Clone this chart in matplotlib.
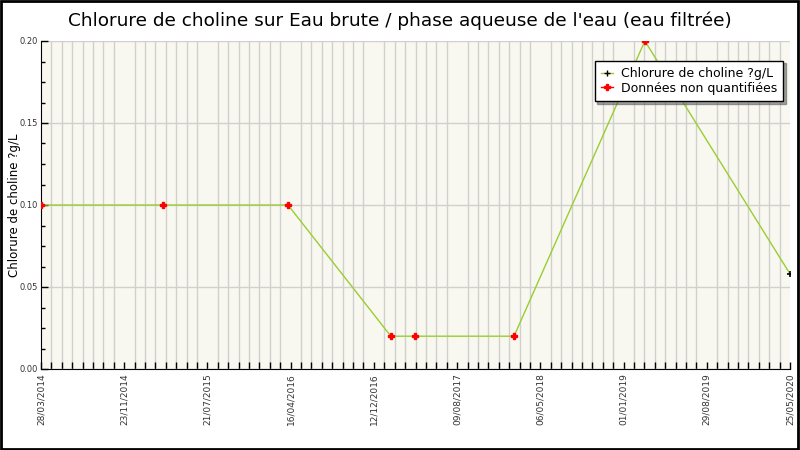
import matplotlib
matplotlib.use("Agg")
import matplotlib.pyplot as plt
import matplotlib.dates as mdates
from matplotlib.patches import Rectangle
import numpy as np
import pandas as pd

# Data
dates_nq = ["2014-03-28", "2015-03-29", "2016-04-08", "2017-02-11",
            "2017-04-24", "2018-02-16", "2019-03-16"]
values_nq = [0.10, 0.10, 0.10, 0.02, 0.02, 0.02, 0.20]
dates_q = ["2020-05-25"]
values_q = [0.058]
tick_labels = ["28/03/2014", "23/11/2014", "21/07/2015", "16/04/2016", "12/12/2016",
               "09/08/2017", "06/05/2018", "01/01/2019", "29/08/2019", "25/05/2020"]

all_dates = pd.to_datetime(dates_nq + dates_q)
all_values = values_nq + values_q

fig = plt.figure(figsize=(8, 4.5), dpi=100)
ax = fig.add_axes([41 / 800, 1 - 369 / 450, 749 / 800, 328 / 450])
ax.set_facecolor("#f8f8f0")

# line through every measurement
ax.plot(all_dates, all_values, color="yellowgreen", lw=1, zorder=3)
ax.plot(pd.to_datetime(dates_nq), values_nq, ls="none", marker="P", ms=4,
        color="red", zorder=4)
ax.plot(pd.to_datetime(dates_q), values_q, ls="none", marker="+", ms=5,
        mew=1.2, color="black", zorder=4)

x0 = mdates.date2num(pd.Timestamp("2014-03-28"))
x1 = mdates.date2num(pd.Timestamp("2020-05-25"))
ax.set_xlim(x0, x1)
ax.set_ylim(0, 0.20)

major = np.linspace(x0, x1, len(tick_labels))
minor = np.linspace(x0, x1, (len(tick_labels) - 1) * 8 + 1)
ax.set_xticks(major)
ax.set_xticklabels(tick_labels, rotation=90, fontsize=6.5, color="#333333")
ax.set_xticks(minor, minor=True)
ax.set_yticks([0, 0.05, 0.10, 0.15, 0.20])
ax.set_yticklabels(["0.00", "0.05", "0.10", "0.15", "0.20"], fontsize=6, color="#333333")
ax.set_yticks(np.arange(0, 0.2001, 0.0125), minor=True)

ax.tick_params(axis="x", which="both", direction="in", length=5, width=1, pad=3)
ax.tick_params(axis="y", which="major", direction="in", length=5, width=1, pad=2.5)
ax.tick_params(axis="y", which="minor", direction="in", length=3, width=1)

ax.grid(True, axis="x", which="minor", color="#d0d0d0", lw=1)
ax.grid(True, axis="y", which="major", color="#d0d0d0", lw=1)
ax.set_axisbelow(True)

for side in ["top", "right"]:
    ax.spines[side].set_visible(False)
ax.spines["left"].set_color("black")
ax.spines["bottom"].set_color("black")

ax.set_ylabel("Chlorure de choline ?g/L", fontsize=8.5)
ax.yaxis.set_label_coords(-0.027, 0.5)

fig.text(0.5, 0.955, "Chlorure de choline sur Eau brute / phase aqueuse de l'eau (eau filtrée)",
         ha="center", va="center", fontsize=13.3)

# legend with shadow, like the original
h1, = ax.plot([], [], color="yellowgreen", lw=1, marker="+", ms=4, mec="black", mew=1)
h2, = ax.plot([], [], color="red", lw=1, marker="P", ms=4, mec="red")
leg = ax.legend([h1, h2], ["Chlorure de choline ?g/L", "Données non quantifiées"],
                loc="upper right", bbox_to_anchor=(0.991, 0.94), fontsize=9,
                frameon=True, fancybox=False, shadow=True, handlelength=1.0,
                borderpad=0.5, labelspacing=0.15, handletextpad=0.6,
                framealpha=1, borderaxespad=0)
leg.get_frame().set_edgecolor("black")
leg.get_frame().set_linewidth(1)

# black border around the figure
fig.patches.append(Rectangle((0.001, 0.002), 0.997, 0.996, transform=fig.transFigure,
                             fill=False, edgecolor="black", lw=2))

fig.savefig("out.png", dpi=100)
